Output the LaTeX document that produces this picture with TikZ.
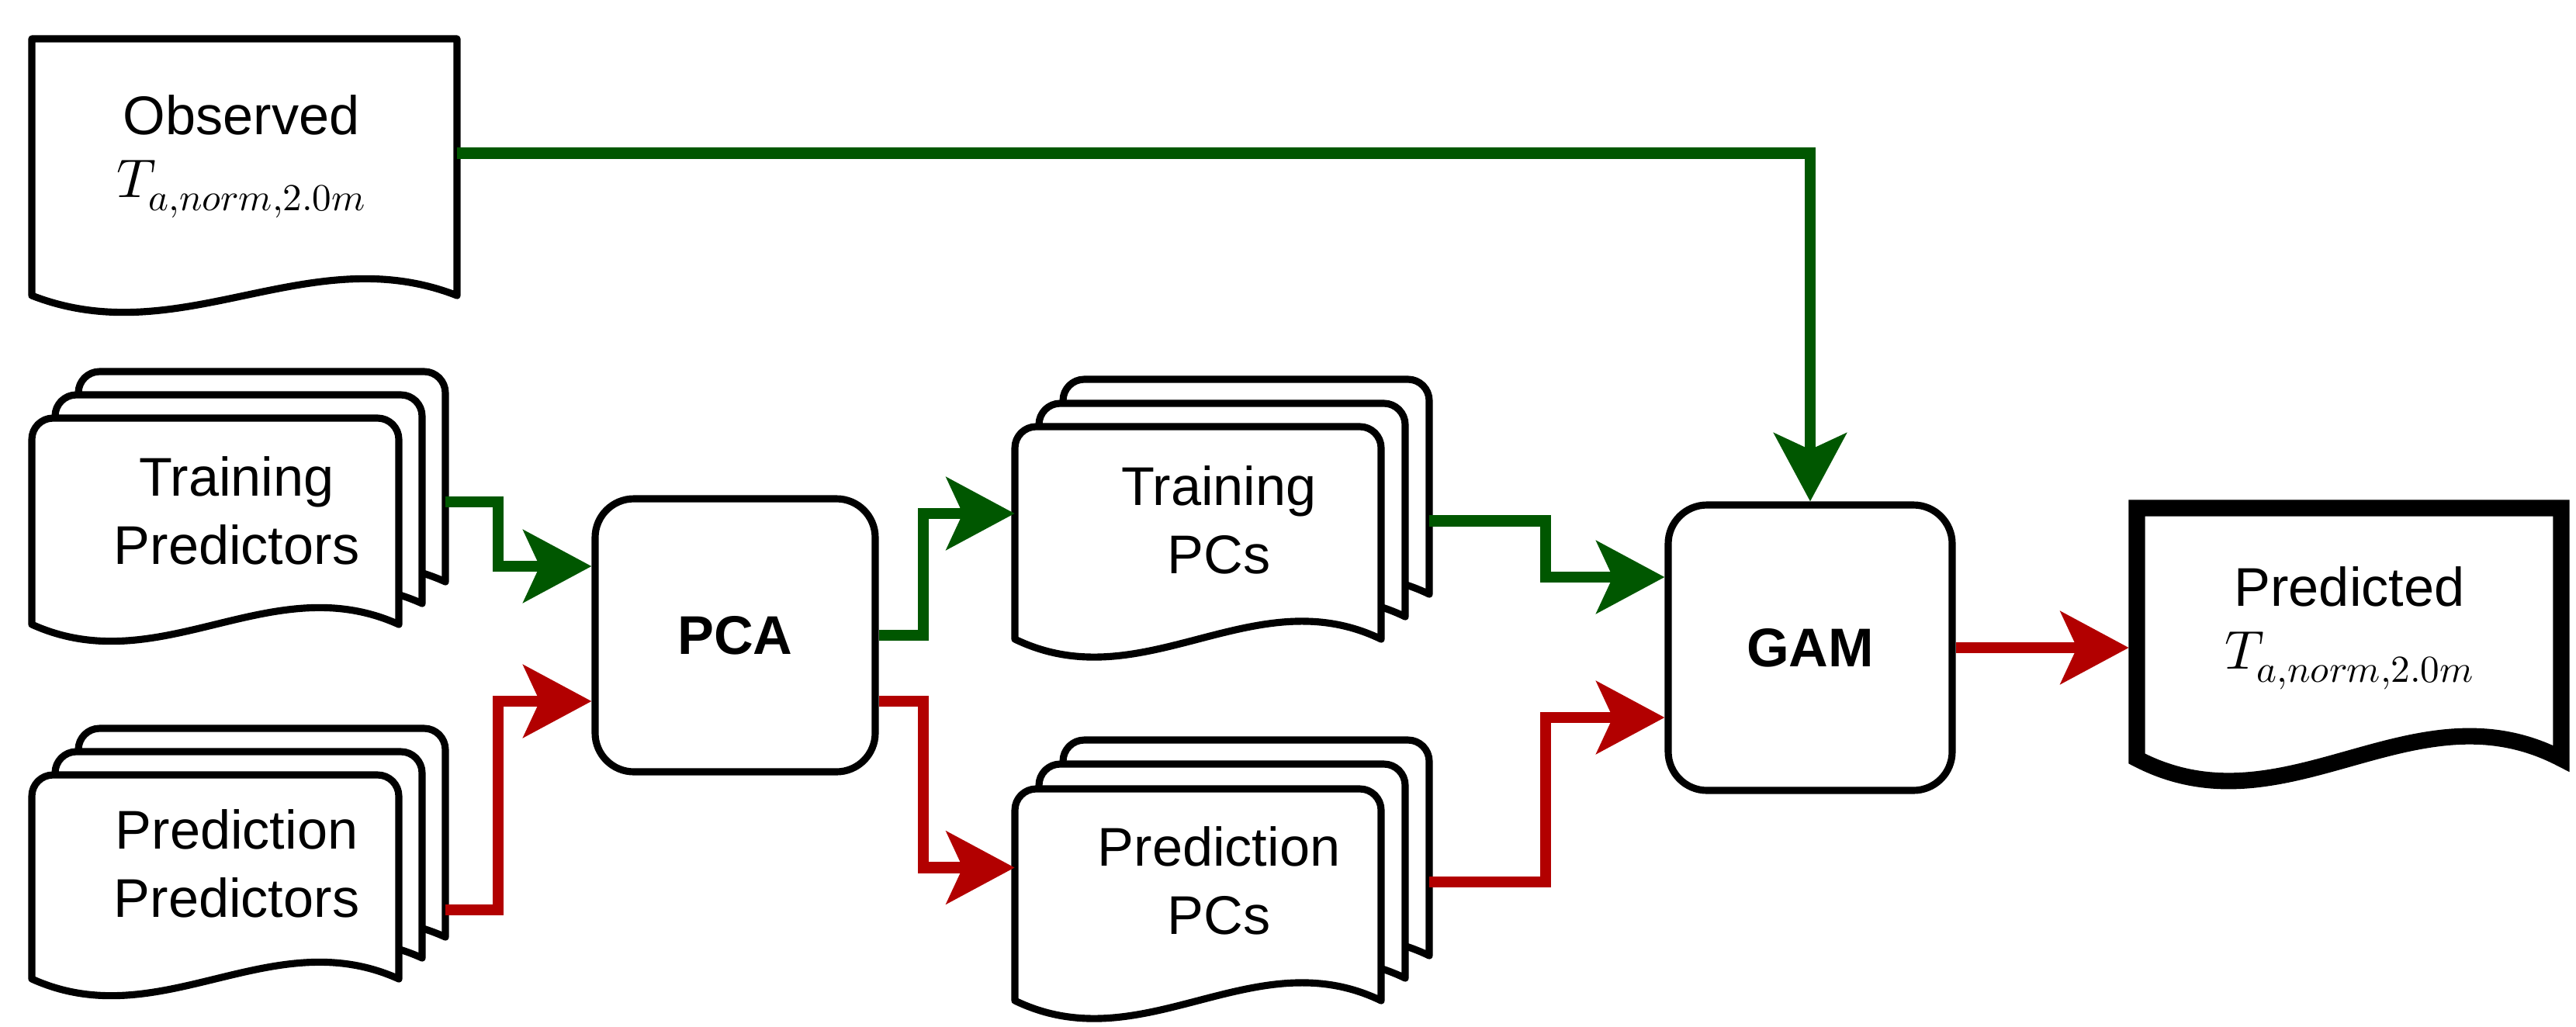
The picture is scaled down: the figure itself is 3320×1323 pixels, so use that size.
\documentclass[tikz,border=0pt]{standalone}
\usepackage{fontspec}
\usepackage{unicode-math}
\setmainfont{Liberation Sans}
\setmathfont{Latin Modern Math}
\usetikzlibrary{calc,arrows.meta}
\definecolor{gline}{HTML}{005700}
\definecolor{rline}{HTML}{B20000}
\newcommand\docshape[6][]{%
  \draw[box,#1] (#2,#5) -- (#2,#3) -- (#4,#3) -- (#4,#5)
    .. controls ({#4-0.35*(#4-#2)},{#5-#6}) and ({#2+0.35*(#4-#2)},{#5+#6}) .. (#2,#5) -- cycle;}
\newcommand\pagelayer[5]{%
  \draw[box] (#1,#4) [rounded corners=0.55cm] -- (#1,#2) -- (#3,#2) [sharp corners] -- (#3,#4)
    .. controls ({#3-0.35*(#3-#1)},{#4-#5}) and ({#1+0.35*(#3-#1)},{#4+#5}) .. (#1,#4) -- cycle;}
\newcommand\bnode[5]{%
  \node[inner sep=0pt, minimum width={(#4-#2)*0.02cm}, minimum height={(#5-#3)*0.02cm}]
    (#1) at ({(#2+#4)/2},{(#3+#5)/2}) {};}
\begin{document}
\begin{tikzpicture}[x=0.02cm,y=-0.02cm,
  box/.style={draw=black, fill=white, line width=5.2pt, line join=round},
  txt/.style={align=center, font=\fontsize{40}{50}\selectfont, inner sep=0pt},
  conn/.style={line width=8pt, -{Stealth[length=50pt,width=53pt,inset=12pt]}},
  g/.style={conn, draw=gline, color=gline},
  r/.style={conn, draw=rline, color=rline},
  proc/.style={draw=black, fill=white, line width=5.2pt, rounded corners=1cm, inner sep=0pt,
    font=\fontsize{40}{50}\selectfont\bfseries}]
\useasboundingbox (0,0) rectangle (3320,1323);

% Observed
\docshape{41}{50}{589}{381}{75}
\bnode{obs}{41}{50}{589}{381}
\node[txt] (obsT) at (311,202) {Observed\\[-4pt]$T_{a,norm,2.0m}$};

% Training predictors
\pagelayer{101}{479}{574}{750}{75}
\pagelayer{71}{509}{544}{778}{75}
\pagelayer{41}{539}{514}{805}{75}
\bnode{tpB}{101}{479}{574}{745}
\node[txt] (tpT) at (305,658) {Training\\Predictors};

% Prediction predictors
\pagelayer{101}{939}{574}{1208}{75}
\pagelayer{71}{969}{544}{1235}{75}
\pagelayer{41}{999}{514}{1262}{75}
\bnode{ppB}{101}{939}{574}{1205}
\node[txt] (ppT) at (305,1113) {Prediction\\Predictors};

% PCA
\node[proc, minimum width={361*0.02cm}, minimum height={352*0.02cm}] (pca) at (947.5,819) {PCA};

% Training PCs
\pagelayer{1370}{489}{1842}{766}{80}
\pagelayer{1339}{520}{1811}{795}{80}
\pagelayer{1308}{550}{1780}{824}{80}
\bnode{tpcB}{1370}{489}{1842}{766}
\bnode{tpcF}{1308}{550}{1780}{824}
\node[txt] (tpcT) at (1571,670) {Training\\PCs};

% Prediction PCs
\pagelayer{1370}{954}{1842}{1232}{80}
\pagelayer{1339}{985}{1811}{1261}{80}
\pagelayer{1308}{1017}{1780}{1290}{80}
\bnode{ppcB}{1370}{954}{1842}{1232}
\bnode{ppcF}{1308}{1017}{1780}{1290}
\node[txt] (ppcT) at (1571,1135) {Prediction\\PCs};

% GAM
\node[proc, minimum width={366*0.02cm}, minimum height={368*0.02cm}] (gam) at (2333,835) {GAM};

% Predicted
\docshape[line width=12pt, line join=miter]{2754}{655}{3301}{978}{100}
\bnode{pred}{2744}{645}{3311}{983}
\node[txt] (predT) at (3028,810) {Predicted\\[-4pt]$T_{a,norm,2.0m}$};

% connectors
\draw[g] ($(obs.east)+(0,-18)$) -| (gam.north);
\draw[g] ($(tpB.east)+(0,35)$) -| ($(pca.west)+(-120,-89)$) -- ($(pca.west)+(0,-89)$);
\draw[r] ($(ppB.east)+(0,101)$) -| ($(pca.west)+(-120,85)$) -- ($(pca.west)+(0,85)$);
\draw[g] (pca.east) -| ($(tpcF.west)+(-118,-25)$) -- ($(tpcF.west)+(0,-25)$);
\draw[r] ($(pca.east)+(0,85)$) -| ($(ppcF.west)+(-118,-35)$) -- ($(ppcF.west)+(0,-35)$);
\draw[g] ($(tpcB.east)+(0,44)$) -| ($(gam.west)+(-153,-91)$) -- ($(gam.west)+(0,-91)$);
\draw[r] ($(ppcB.east)+(0,44)$) -| ($(gam.west)+(-153,90)$) -- ($(gam.west)+(0,90)$);
\draw[r] (gam.east) -- (gam.east -| pred.west);
\end{tikzpicture}
\end{document}
